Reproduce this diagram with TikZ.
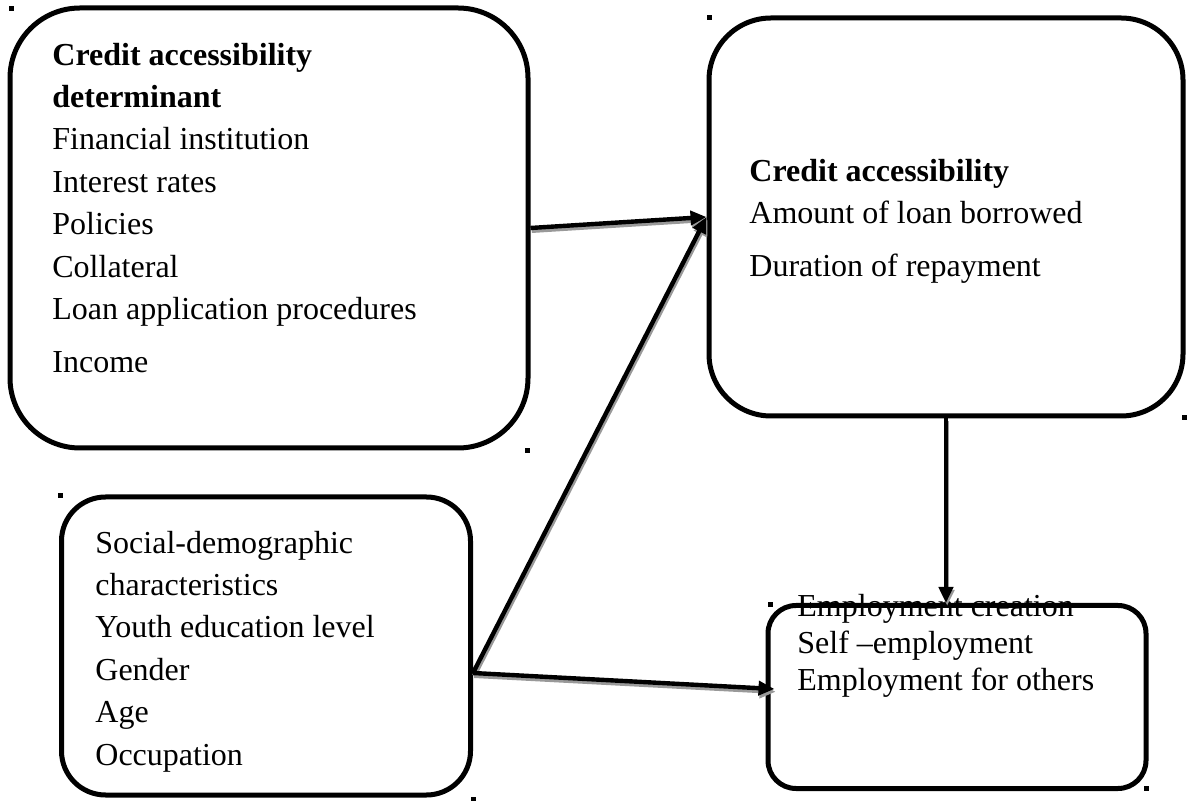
\documentclass[tikz,border=0pt]{standalone}
\usepackage{fontspec}
\setmainfont{Liberation Serif}
\usetikzlibrary{positioning, arrows.meta}

\begin{document}
\begin{tikzpicture}[
    x=0.5pt, y=-0.5pt,
    box/.style={rectangle, draw=black, line width=2.5pt, inner sep=0pt},
    txt/.style={anchor=base west, inner sep=0pt, align=left, font=\fontsize{16}{21.2}\selectfont},
    line/.style={draw, line width=2.2pt, -{Triangle[length=8pt, width=7pt]},
        preaction={draw=black!40, line width=2.2pt, transform canvas={shift={(0.6pt,-1.4pt)}}}}
    ]
    \useasboundingbox (0,0) rectangle (1189,801);

    % Nodes
    \node (determinants) [box, rounded corners=35pt, minimum width=259pt, minimum height=220pt] at (269,228) {};
    \node (access) [box, rounded corners=31pt, minimum width=237pt, minimum height=199pt] at (946,217) {};
    \node (social) [box, rounded corners=22pt, minimum width=204.5pt, minimum height=149pt] at (266,646) {};
    \node (employ) [box, rounded corners=14pt, minimum width=189pt, minimum height=91.5pt] at (957,697) {};

    % texts, placed by the baseline of their last line
    \node (determinants-txt) [txt] at (52,373) {\textbf{Credit accessibility}\\\textbf{determinant}\\Financial institution\\Interest rates\\Policies\\Collateral\\Loan application procedures\\[5.5pt]Income};
    \node (access-txt) [txt] at (749,277) {\textbf{Credit accessibility}\\Amount of loan borrowed\\[5.5pt]Duration of repayment};
    \node (social-txt) [txt] at (95,765) {Social-demographic\\characteristics\\Youth education level\\Gender\\Age\\Occupation};
    \node (employ-txt) [txt, font=\fontsize{16}{18.5}\selectfont] at (797,690) {Employment creation\\Self –employment\\Employment for others};

    \coordinate (hub) at ([yshift=-13.5pt]social.east);

    % Arrows
    \draw [line] (determinants.east) -- (access.west);
    \draw [line] (hub) -- (access.west);
    \draw [line] (hub) -- ([xshift=4.5pt, yshift=4pt]employ.west);
    \draw [line] (access.south) -- (access.south |- employ.north);

    % stray marks
    \foreach \px/\py in {11/9, 709/18, 1184/418, 527/451, 60/496, 770/605, 1146/788, 473/799}
        \fill (\px-2.5,\py-2.5) rectangle +(5,5);
\end{tikzpicture}
\end{document}
